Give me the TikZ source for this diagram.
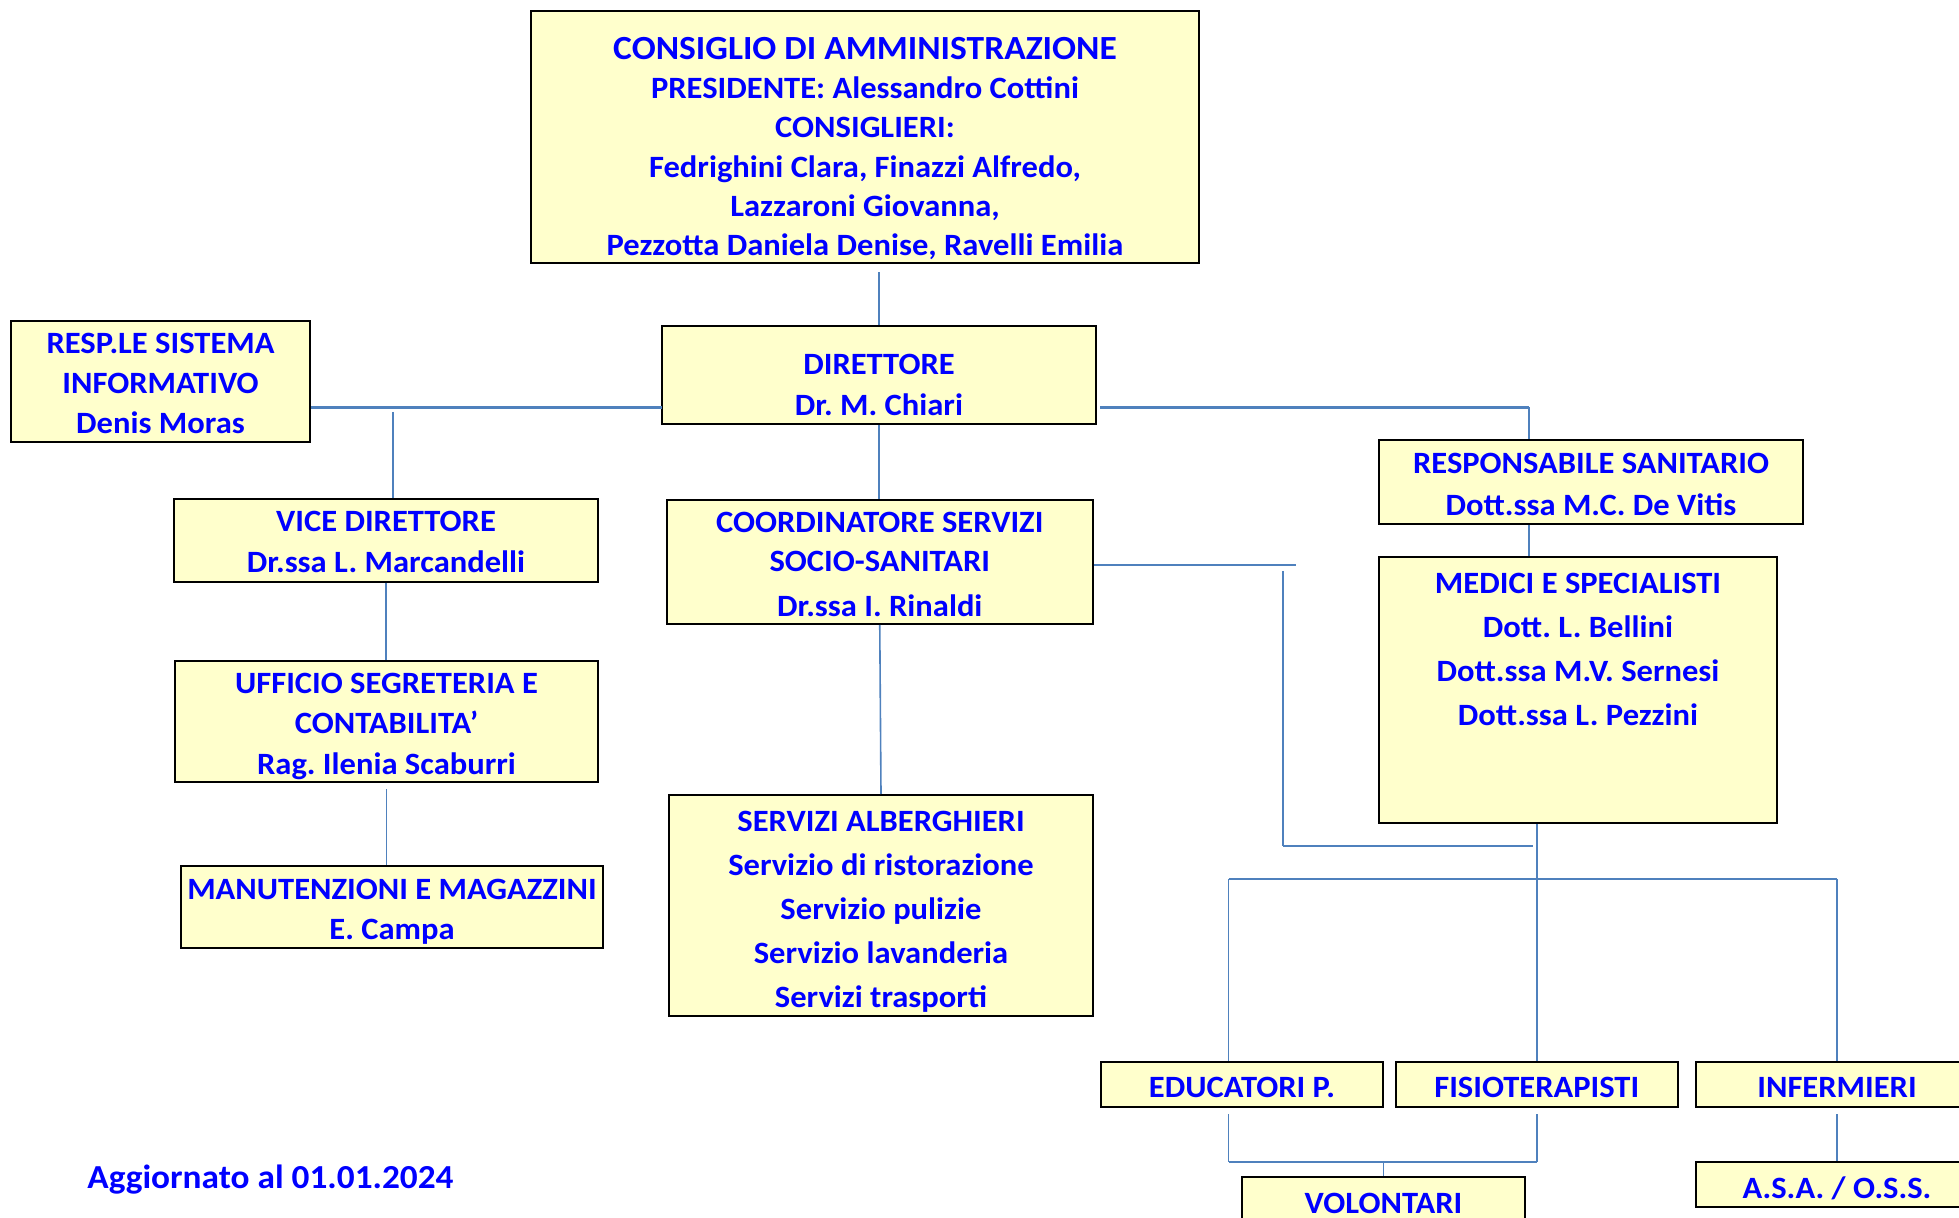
\documentclass[tikz,border=0pt]{standalone}
\usepackage{fontspec}
\setmainfont{Carlito}[FakeStretch=1.05]
\usetikzlibrary{calc}
\definecolor{boxfill}{HTML}{FFFFCC}
\definecolor{txtblue}{HTML}{0000FF}
\definecolor{linkblue}{HTML}{4F81BD}
\newcommand{\mlines}[1]{\begin{tabular}[t]{@{}c@{}}#1\end{tabular}}
\newcommand{\titlesize}{\fontsize{16.9pt}{19.6pt}\selectfont}
\frenchspacing
\begin{document}
\begin{tikzpicture}[x=0.5pt,y=-0.5pt,
  box/.style={draw=black, line width=1pt, fill=boxfill, inner sep=0pt},
  txt/.style={anchor=base, inner sep=0pt, text=txtblue, font=\fontsize{15.5pt}{#1}\selectfont\bfseries\frenchspacing},
  txt/.default=19.6pt,
  vline/.style={draw=linkblue, line width=0.8pt},
  hline/.style={draw=linkblue, line width=1.2pt}]
\useasboundingbox (0,0) rectangle (1959,1218);
\clip (0,0) rectangle (1959,1218);

% boxes
\node[box, minimum width=334pt, minimum height=126pt] (cda) at (865,137) {};
\node[box, minimum width=149.5pt, minimum height=60.5pt] (resp) at (160.5,381.5) {};
\node[box, minimum width=217pt, minimum height=49pt] (diret) at (879,375) {};
\node[box, minimum width=212pt, minimum height=41.75pt] (rsan) at (1591,482.25) {};
\node[box, minimum width=212pt, minimum height=41.25pt] (vice) at (386,540.75) {};
\node[box, minimum width=213.25pt, minimum height=62pt] (coord) at (879.75,562) {};
\node[box, minimum width=199pt, minimum height=133pt] (medici) at (1578,690) {};
\node[box, minimum width=211.5pt, minimum height=60.25pt] (uff) at (386.5,721.75) {};
\node[box, minimum width=211.25pt, minimum height=41pt] (manut) at (392,907) {};
\node[box, minimum width=212pt, minimum height=110.5pt] (serv) at (881,905.5) {};
\node[box, minimum width=141pt, minimum height=22.5pt] (edu) at (1242,1084.5) {};
\node[box, minimum width=141.25pt, minimum height=22.5pt] (fisio) at (1536.75,1084.5) {};
\node[box, minimum width=141pt, minimum height=22.5pt] (inf) at (1837,1084.5) {};
\node[box, minimum width=141.5pt, minimum height=22.5pt] (vol) at (1383.5,1199.5) {};
\node[box, minimum width=141pt, minimum height=22.5pt] (asa) at (1837,1184.5) {};

% texts
\node[txt] (cda-t) at (865,59.5) {\mlines{{\titlesize CONSIGLIO DI AMMINISTRAZIONE}\\PRESIDENTE: Alessandro Cottini\\CONSIGLIERI:\\Fedrighini Clara, Finazzi Alfredo,\\Lazzaroni Giovanna,\\Pezzotta Daniela Denise, Ravelli Emilia}};
\node[txt=20pt] (resp-t) at (160.5,354) {\mlines{RESP.LE SISTEMA\\INFORMATIVO\\Denis Moras}};
\node[txt=20.5pt] (diret-t) at (879,375) {\mlines{DIRETTORE\\Dr. M. Chiari}};
\node[txt=20.75pt] (rsan-t) at (1591,474) {\mlines{RESPONSABILE SANITARIO\\Dott.ssa M.C. De Vitis}};
\node[txt=20.5pt] (vice-t) at (386,532) {\mlines{VICE DIRETTORE\\Dr.ssa L. Marcandelli}};
\node[txt=19.3pt] (coord-t) at (879.75,532.5) {\mlines{COORDINATORE SERVIZI\\SOCIO-SANITARI\\[3.2pt]Dr.ssa I. Rinaldi}};
\node[txt=22pt] (medici-t) at (1578,594) {\mlines{MEDICI E SPECIALISTI\\Dott. L. Bellini\\Dott.ssa M.V. Sernesi\\Dott.ssa L. Pezzini}};
\node[txt=20pt] (uff-t) at (386.5,694) {\mlines{UFFICIO SEGRETERIA E\\CONTABILITA’\\Rag. Ilenia Scaburri}};
\node[txt=20pt] (manut-t) at (392,899) {\mlines{MANUTENZIONI E MAGAZZINI\\E. Campa}};
\node[txt=22pt] (serv-t) at (881,831.5) {\mlines{SERVIZI ALBERGHIERI\\Servizio di ristorazione\\Servizio pulizie\\Servizio lavanderia\\Servizi trasporti}};
\node[txt] (edu-t) at (1242,1097) {EDUCATORI P.};
\node[txt] (fisio-t) at (1536.75,1097) {FISIOTERAPISTI};
\node[txt] (inf-t) at (1837,1097) {INFERMIERI};
\node[txt] (vol-t) at (1383.5,1213) {VOLONTARI};
\node[txt] (asa-t) at (1837,1198) {A.S.A. / O.S.S.};
\node[anchor=base west, inner sep=0pt, text=txtblue, font=\fontsize{16.8pt}{20pt}\selectfont\bfseries] (agg) at (87,1188) {Aggiornato al 01.01.2024};

% free-end coordinates
\coordinate (dl) at (662,407.5);
\coordinate (dr) at (1100,407.5);
\coordinate (rj) at (1529,407.5);
\coordinate (vt) at (393,412);
\coordinate (cr) at (1296,565);
\coordinate (lt) at (1283,571);
\coordinate (lb) at (1283,846);
\coordinate (lr) at (1533,846);
\coordinate (bl) at (1228.5,879);
\coordinate (br) at (1837,879);
\coordinate (vj) at (1383.5,1162);

% connectors
\draw[vline, shorten >=4pt] (diret.north) -- (diret.north |- cda.south);
\draw[hline] (dl) -- (dl -| resp.east);
\draw[vline] (vt) -- (vt |- vice.north);
\draw[vline] (diret.south) -- (diret.south |- coord.north);
\draw[hline] (dr) -- (rj);
\draw[vline] (rj) -- (rj |- rsan.north);
\draw[vline] (rj |- rsan.south) -- (rj |- medici.north);
\draw[vline] (vice.south) -- (vice.south |- uff.north);
\draw[vline, shorten <=3pt] (uff.south) -- (uff.south |- manut.north);
\draw[vline] (coord.south) -- (serv.north);
\draw[hline] (coord.east |- cr) -- (cr);
\draw[vline] (lt) -- (lb);
\draw[hline] (lb) -- (lr);
\draw[vline] (fisio.north |- medici.south) -- (fisio.north);
\draw[hline] (bl) -- (br);
\draw[vline] (bl) -- (bl |- edu.north);
\draw[vline] (br) -- (inf.north);
\draw[vline, shorten <=3pt] (bl |- edu.south) -- (bl |- vj);
\draw[hline] (bl |- vj) -- (fisio.south |- vj);
\draw[vline, shorten >=3pt] (fisio.south |- vj) -- (fisio.south);
\draw[vline] (vj) -- (vol.north);
\draw[vline, shorten <=3pt] (inf.south) -- (asa.north);
\end{tikzpicture}
\end{document}
